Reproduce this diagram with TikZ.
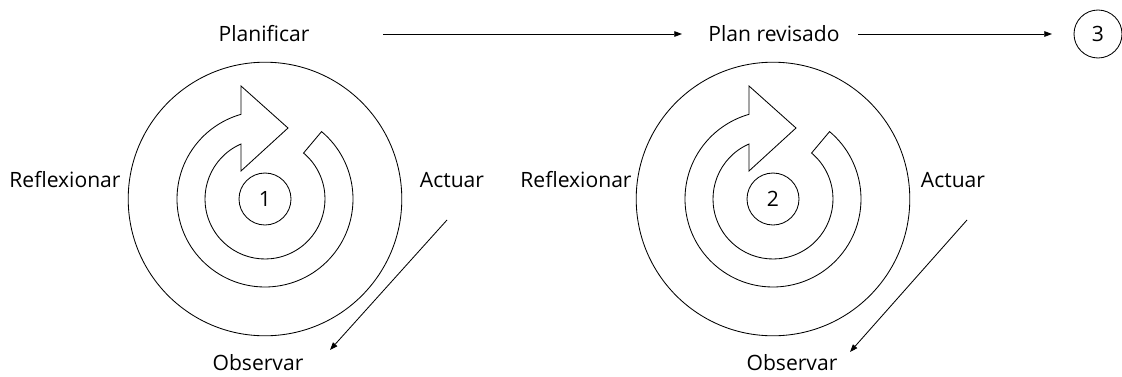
\documentclass[tikz,border=0pt]{standalone}
\usepackage{fontspec}
\setmainfont{Open Sans}
\usetikzlibrary{positioning,arrows.meta}

\begin{document}
\begin{tikzpicture}[
  lb/.style={font=\fontsize{15}{18}\selectfont, inner sep=1pt},
  rd/.style={circle, draw, line width=0.6pt, inner sep=0pt, minimum size=#1,
             font=\fontsize{15}{18}\selectfont},
  ar/.style={-{Triangle[length=5.5pt,width=4pt]}, line width=0.6pt},
  giro/.pic={
    \draw[line width=0.6pt]
      (50:2.2) arc[start angle=50, end angle=-254.17, radius=2.2]
      -- (-0.6,2.825) -- (0.575,1.775) -- (-0.6,0.7) -- (-0.6,1.375)
      arc[start angle=-246.42, end angle=50, radius=1.5] -- cycle;
  },
]
\useasboundingbox (0,0) rectangle (28.05,9.4);

% primer ciclo
\node[rd=6.84cm] (cicloA) at (6.625,4.425) {};
\node[rd=1.3cm]  (numA)   at (cicloA) {1};
\pic at (cicloA) {giro};
\node[lb] (planificar) at (6.6,8.55)   {Planificar};
\node[lb] (reflexA)    at (1.625,4.9)  {Reflexionar};
\node[lb] (actuarA)    at (11.3,4.9)   {Actuar};
\node[lb] (observarA)  at (6.45,0.325) {Observar};

% segundo ciclo
\node[rd=6.84cm] (cicloB) at (19.325,4.425) {};
\node[rd=1.3cm]  (numB)   at (cicloB) {2};
\pic at (cicloB) {giro};
\node[lb] (revisado)  at (19.35,8.55)  {Plan revisado};
\node[lb] (reflexB)   at (14.4,4.9)    {Reflexionar};
\node[lb] (actuarB)   at (23.825,4.9)  {Actuar};
\node[lb] (observarB) at (19.8,0.325)  {Observar};

\node[rd=1.2cm] (numC) at (27.45,8.55) {3};

% flechas
\draw[ar] ([xshift=2.975cm]planificar.center) -- ([xshift=-2.3cm]revisado.center);
\draw[ar] ([xshift=2.1cm]revisado.center) -- ([xshift=-1.15cm]numC.center);
\draw[ar] ([shift={(-0.125,-1.0)}]actuarA.center) -- ([shift={(1.8,0.325)}]observarA.center);
\draw[ar] ([shift={(0.35,-1.0)}]actuarB.center) -- ([shift={(1.45,0.275)}]observarB.center);
\end{tikzpicture}
\end{document}
